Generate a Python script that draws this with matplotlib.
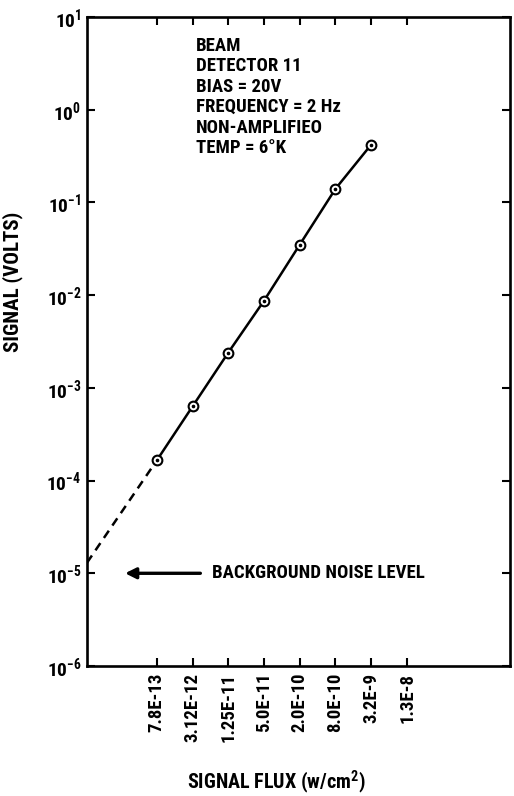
import matplotlib
matplotlib.use("Agg")
import matplotlib.pyplot as plt
from matplotlib import font_manager
from matplotlib.ticker import FixedLocator, FixedFormatter, LogLocator, NullLocator

# Flux scale (W/cm^2): each step is a factor of four
flux_ticks = [7.8e-13, 3.12e-12, 1.25e-11, 5.0e-11, 2.0e-10, 8.0e-10, 3.2e-9, 1.3e-8]
flux_tick_labels = ["7.8E-13", "3.12E-12", "1.25E-11", "5.0E-11",
                    "2.0E-10", "8.0E-10", "3.2E-9", "1.3E-8"]

# Measured detector response
flux = [7.8e-13, 3.12e-12, 1.25e-11, 5.0e-11, 2.0e-10, 8.0e-10, 3.2e-9]
signal = [1.65e-4, 6.3e-4, 2.4e-3, 8.7e-3, 3.5e-2, 0.14, 0.42]

# Extrapolation of the response towards zero flux, and the noise floor
extrap_flux = [5.2e-14, 7.8e-13]
extrap_signal = [1.3e-5, 1.65e-4]
noise_level = 1e-5

info_lines = ["BEAM", "DETECTOR 11", "BIAS = 20V", "FREQUENCY = 2 Hz",
              "NON-AMPLIFIEO", "TEMP = 6°K"]

# Pick a narrow sans face for the lettering
available = {f.name for f in font_manager.fontManager.ttflist}
family = "DejaVu Sans"
for cand in ["Roboto Condensed", "Liberation Sans Narrow", "DejaVu Sans Condensed"]:
    if cand in available:
        family = cand
        break

plt.rcParams["font.family"] = [family, "DejaVu Sans"]
plt.rcParams["font.weight"] = "bold"
plt.rcParams["axes.unicode_minus"] = False
plt.rcParams["mathtext.fontset"] = "custom"
plt.rcParams["mathtext.rm"] = family
plt.rcParams["mathtext.bf"] = family + ":bold"
plt.rcParams["mathtext.default"] = "bf"

fig = plt.figure(figsize=(5.14, 7.96), dpi=100)
ax = fig.add_axes([87 / 514, 1 - 666 / 796, 423 / 514, 649 / 796])

ax.set_xscale("log")
ax.set_yscale("log")
ax.set_xlim(5.2e-14, 7.0e-7)
ax.set_ylim(1e-6, 1e1)

# Response curve
ax.plot(flux, signal, color="black", lw=1.8, zorder=3)
ax.plot(extrap_flux, extrap_signal, color="black", lw=1.8,
        ls=(0, (3.5, 2.5)), zorder=3)
ax.plot(flux, signal, ls="none", marker="o", ms=7, mfc="white",
        mec="black", mew=1.5, zorder=4)
ax.plot(flux, signal, ls="none", marker="o", ms=1.6, mfc="black",
        mec="black", zorder=5)

# Noise floor annotation
ax.annotate("", xy=(0.09, noise_level), xycoords=("axes fraction", "data"),
            xytext=(0.268, noise_level), textcoords=("axes fraction", "data"),
            arrowprops=dict(arrowstyle="-|>", lw=2.4, color="black",
                            mutation_scale=16, shrinkA=0, shrinkB=0))
ax.text(0.296, noise_level, "BACKGROUND NOISE LEVEL",
        transform=ax.get_yaxis_transform(), va="center", ha="left",
        fontsize=13.5, fontweight="bold")

# Test conditions
ax.text(0.258, 0.969, "\n".join(info_lines), transform=ax.transAxes,
        va="top", ha="left", fontsize=13.5, fontweight="bold",
        linespacing=1.17)

# Axes styling
for side in ["left", "right", "top", "bottom"]:
    ax.spines[side].set_linewidth(1.9)

ax.xaxis.set_major_locator(FixedLocator(flux_ticks))
ax.xaxis.set_major_formatter(FixedFormatter(flux_tick_labels))
ax.xaxis.set_minor_locator(NullLocator())
ax.yaxis.set_major_locator(LogLocator(base=10, numticks=20))
ax.yaxis.set_minor_locator(NullLocator())

ax.tick_params(axis="x", which="major", direction="in", length=6, width=1.5,
               top=True, bottom=True, labelsize=13.5, labelrotation=90, pad=5)
ax.tick_params(axis="y", which="major", direction="in", length=6, width=1.5,
               left=True, right=True, labelsize=14, pad=4)

ax.set_xlabel("SIGNAL FLUX (w/cm$^2$)", fontsize=14.5, fontweight="bold")
ax.xaxis.set_label_coords(0.447, -0.158)
ax.set_ylabel("SIGNAL (VOLTS)", fontsize=15, fontweight="bold")
ax.yaxis.set_label_coords(-0.152, 0.592)

fig.savefig("out.png", dpi=100)
